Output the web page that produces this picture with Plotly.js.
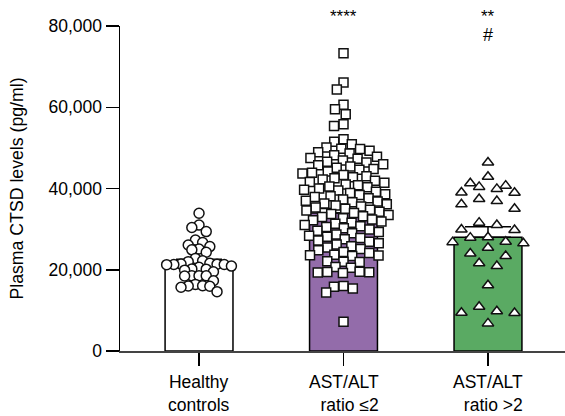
<!DOCTYPE html>
<html>
<head>
<meta charset="utf-8">
<script src="https://cdn.plot.ly/plotly-3.0.1.min.js"></script>
<style>
  html, body { margin: 0; padding: 0; background: #ffffff; }
  #chart { width: 565px; height: 416px; }
</style>
</head>
<body>
<div id="chart"></div>
<script>
// ---------------- data ----------------
const categories = ['Healthy controls', 'AST/ALT ratio ≤2', 'AST/ALT ratio >2'];
const tickLabels = ['Healthy<br>controls', 'AST/ALT<br>ratio ≤2', 'AST/ALT<br>ratio >2'];
const barMeans = [21800, 34000, 28000];
const barSEM = [800, 1100, 2600];
const starsVsControls = ['', '****', '**'];
const hashVsLow = ['', '', '#'];

const healthyControls = [
  33900, 31000, 30400, 29400, 27300, 26700, 26100, 25700, 25100, 24900, 24300,
  22800, 22200, 22000, 21600, 21400, 21300, 21250, 21350, 21300, 20900, 20600,
  20200, 20150, 19900, 19500, 18500, 18450, 18550, 18500, 17300, 16400, 16000,
  16050, 15950, 15700, 14600
];

const ratioLow = [
  73300, 66100, 64400, 60600, 59500, 58300, 55800, 55400, 52100, 51500, 50900,
  50100, 49800, 49700, 49300, 48900, 48600, 48200,
  47800, 47500, 47300, 46900, 46600, 46400, 46000, 45700, 45400, 45100,
  44800, 44600, 44200, 43900, 43700, 43300, 43000, 42800, 42500, 42200,
  41900, 41600, 41400, 41000, 40800, 40500, 40300, 40000, 39700, 39500, 39200,
  38900, 38600, 38400, 38100, 37900, 37600, 37300, 37000, 36800, 36600, 36300, 36100,
  35800, 35600, 35300, 35000, 34800, 34600, 34300, 34000, 33700, 33500, 33200, 33000,
  32700, 32400, 32200, 31900, 31600, 31300, 31000, 30700, 30500, 30200,
  29900, 29600, 29300, 29000, 28700, 28400, 28100, 27800, 27500, 27200,
  26900, 26500, 26200, 25800, 25500, 25100, 24800, 24400, 24100,
  23700, 23600, 23500, 23400, 22100, 22000, 21900, 20700, 20500,
  19500, 19450, 19400, 19300, 19200, 16000, 15800, 15400, 14400, 7200
];

const ratioHigh = [
  46400, 42900, 41300, 40700, 40400, 39900, 39000, 38950, 37400, 36900, 36100,
  35000, 31600, 31000, 29900, 29800, 28000, 27900, 26900, 26800, 26500, 25400,
  24000, 23400, 21600, 20900, 16200, 10900, 9800, 9400, 9350, 6800
];

// ---------------- layout geometry ----------------
const W = 565, H = 416;
const M = { l: 120, r: 0, t: 26, b: 65 };
const xRange = [-0.547, 2.533];
const yRange = [0, 80000];
const plotW = W - M.l - M.r, plotH = H - M.t - M.b;
const pxPerX = plotW / (xRange[1] - xRange[0]);
const pxPerY = plotH / (yRange[1] - yRange[0]);

// Column-scatter (GraphPad-like rows) arrangement.
function columnScatter(values, center, rowPx, stepPx) {
  const order = values.map((v, i) => i).sort((a, b) => values[b] - values[a]);
  const rows = [];
  let cur = null;
  for (const i of order) {
    const ypx = values[i] * pxPerY;
    if (cur && cur.top - ypx < rowPx) cur.members.push(i);
    else { cur = { top: ypx, members: [i] }; rows.push(cur); }
  }
  const xs = new Array(values.length);
  rows.forEach(r => {
    const n = r.members.length;
    const slots = [];
    for (let k = 0; k < n; k++) slots.push((k - (n - 1) / 2) * stepPx);
    slots.sort((a, b) => Math.abs(a) - Math.abs(b) || a - b);
    r.members.forEach((m, j) => { xs[m] = center + slots[j] / pxPerX; });
  });
  return xs;
}

// Beeswarm arrangement: each point as close to the centre as spacing d (px) allows.
function beeswarm(values, center, d) {
  const order = values.map((v, i) => i).sort((a, b) => values[b] - values[a]);
  const placed = [];
  const xs = new Array(values.length);
  for (const i of order) {
    const y = values[i] * pxPerY;
    const near = placed.filter(p => Math.abs(p.y - y) < d);
    const cands = [0];
    near.forEach(p => {
      const dx = Math.sqrt(d * d - (p.y - y) * (p.y - y));
      cands.push(p.x + dx + 0.01, p.x - dx - 0.01);
    });
    cands.sort((a, b) => Math.abs(a) - Math.abs(b) || a - b);
    let best = 0;
    for (const c of cands) {
      if (near.every(p => (p.x - c) * (p.x - c) + (p.y - y) * (p.y - y) >= d * d - 0.001)) { best = c; break; }
    }
    placed.push({ x: best, y: y });
    xs[i] = center + best / pxPerX;
  }
  return xs;
}

const font = 'Liberation Sans, Arial, Helvetica, sans-serif';
const groupColors = ['#ffffff', '#936caa', '#5aaa63'];

const bars = {
  type: 'bar',
  x: [0, 1, 2],
  y: barMeans,
  width: 0.47,
  marker: { color: groupColors, line: { color: '#000000', width: 1.5 } },
  error_y: { type: 'data', symmetric: false, array: barSEM, arrayminus: [0, 0, 0],
             color: '#000000', thickness: 1.5, width: 23 },
  hoverinfo: 'skip',
  showlegend: false
};

function pointsTrace(values, xs, symbol, size) {
  return {
    type: 'scatter', mode: 'markers',
    x: xs, y: values,
    marker: { symbol: symbol, size: size, color: '#ffffff', line: { color: '#111111', width: 1.5 } },
    cliponaxis: false,
    showlegend: false
  };
}

const traces = [
  bars,
  pointsTrace(healthyControls, columnScatter(healthyControls, 0, 8, 7.2), 'circle', 10),
  pointsTrace(ratioLow, beeswarm(ratioLow, 1, 9.6), 'square', 9),
  pointsTrace(ratioHigh, columnScatter(ratioHigh, 2, 10, 17.7), 'triangle-up', 10)
];

const annotations = [];
categories.forEach((c, i) => {
  annotations.push({
    xref: 'x', yref: 'paper', x: i, y: -0.057, xanchor: 'center', yanchor: 'top',
    text: tickLabels[i], showarrow: false, align: i === 0 ? 'center' : 'right',
    font: { family: font, size: 17.5, color: '#000000' }
  });
  if (starsVsControls[i]) annotations.push({
    xref: 'x', yref: 'paper', x: i, y: 1.028, xanchor: 'center', yanchor: 'middle',
    text: starsVsControls[i], showarrow: false,
    font: { family: font, size: 17, color: '#000000' }
  });
  if (hashVsLow[i]) annotations.push({
    xref: 'x', yref: 'paper', x: i, y: 0.972, xanchor: 'center', yanchor: 'middle',
    text: hashVsLow[i], showarrow: false,
    font: { family: font, size: 18, color: '#000000' }
  });
});

const layout = {
  width: W, height: H,
  margin: M,
  paper_bgcolor: '#ffffff', plot_bgcolor: '#ffffff',
  font: { family: font, size: 17, color: '#000000' },
  bargap: 0,
  xaxis: {
    range: xRange, tickvals: [0, 1, 2], showticklabels: false,
    ticks: 'outside', ticklen: 13, tickwidth: 1.5, tickcolor: '#000000',
    showline: true, linecolor: '#444444', linewidth: 1.5,
    showgrid: false, zeroline: false, fixedrange: true
  },
  yaxis: {
    range: yRange, tickvals: [0, 20000, 40000, 60000, 80000], tickformat: ',d',
    ticks: 'outside', ticklen: 13, tickwidth: 1.5, tickcolor: '#000000',
    showline: true, linecolor: '#000000', linewidth: 1.5,
    showgrid: false, zeroline: false, fixedrange: true,
    tickfont: { family: font, size: 17.5, color: '#000000' },
    title: { text: 'Plasma CTSD levels (pg/ml)', font: { family: font, size: 17.7, color: '#000000' }, standoff: 20 }
  },
  annotations: annotations,
  showlegend: false
};

Plotly.newPlot('chart', traces, layout, { displayModeBar: false, staticPlot: true });
</script>
</body>
</html>
